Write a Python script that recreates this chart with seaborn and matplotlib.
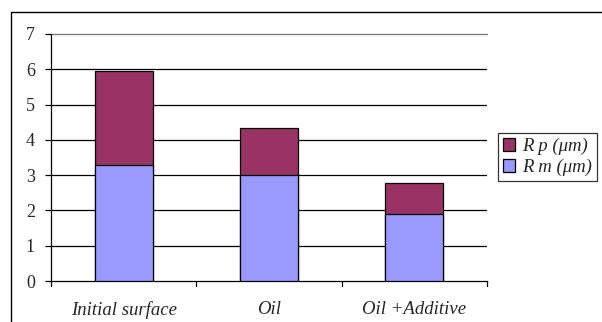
import matplotlib
matplotlib.use("Agg")
import matplotlib.pyplot as plt
import seaborn as sns
import pandas as pd
from matplotlib.patches import Rectangle, Patch

categories = ["Initial surface", "Oil", "Oil +Additive"]
rm_values = [3.3, 3.0, 1.9]
rp_values = [2.65, 1.35, 0.88]
y_ticks = [0, 1, 2, 3, 4, 5, 6, 7]

rp_color = "#993366"
rm_color = "#9999FF"

sns.set_theme(style="white")
plt.rcParams["font.family"] = ["Liberation Serif", "DejaVu Serif"]

df = pd.DataFrame({"category": categories, "Rm": rm_values, "Rp": rp_values})
df["total"] = df["Rm"] + df["Rp"]

W, H = 602, 322
fig = plt.figure(figsize=(W / 100, H / 100), dpi=100)
ax = fig.add_axes([51 / W, 1 - 281 / H, (487 - 51) / W, (281 - 34) / H])

# stacked bars: full height in Rp colour, Rm drawn over it
sns.barplot(data=df, x="category", y="total", color=rp_color, saturation=1,
            width=0.4, edgecolor="black", linewidth=0.9, ax=ax, zorder=3)
sns.barplot(data=df, x="category", y="Rm", color=rm_color, saturation=1,
            width=0.4, edgecolor="black", linewidth=0.9, ax=ax, zorder=3)

ax.set_xlim(-0.5, 2.5)
ax.set_ylim(0, 7)
ax.set_yticks(y_ticks)
ax.set_yticklabels([str(t) for t in y_ticks], fontsize=13)
ax.set_xticks([0, 1, 2])
ax.set_xticklabels(categories, fontsize=13.5, style="italic")
ax.set_xlabel("")
ax.set_ylabel("")

for y in y_ticks[1:-1]:
    ax.axhline(y, color="black", linewidth=0.9, zorder=1)
ax.axhline(7, color="#777777", linewidth=0.9, zorder=1, clip_on=False)

for side in ["top", "right"]:
    ax.spines[side].set_visible(False)
for side in ["left", "bottom"]:
    ax.spines[side].set_color("black")
    ax.spines[side].set_linewidth(0.9)

ax.tick_params(axis="y", left=True, length=4.5, width=0.9, color="black", pad=7)
ax.tick_params(axis="x", bottom=False, pad=8.5)
# category boundary ticks on the x axis
for xb in [-0.5, 0.5, 1.5, 2.5]:
    ax.plot([xb, xb], [0, -0.14], color="black", linewidth=0.9, clip_on=False)

# outer chart frame
fig.patches.append(Rectangle((11 / W, -0.1), 1.2, 1 - 12 / H + 0.1,
                             transform=fig.transFigure, fill=False,
                             edgecolor="black", linewidth=1.0))

handles = [Patch(facecolor=rp_color, edgecolor="black", linewidth=0.9),
           Patch(facecolor=rm_color, edgecolor="black", linewidth=0.9)]
labels = ["R p (\u03bcm)", "R m (\u03bcm)"]
leg = fig.legend(handles, labels, loc="upper left",
                 bbox_to_anchor=(498 / W, 1 - 133 / H),
                 prop={"size": 13.5, "style": "italic"},
                 frameon=True, fancybox=False, borderpad=0.25,
                 handlelength=0.65, handleheight=0.65, handletextpad=0.4,
                 labelspacing=0.2, borderaxespad=0)
leg.get_frame().set_edgecolor("black")
leg.get_frame().set_linewidth(0.9)

fig.savefig("out.png", dpi=100)
